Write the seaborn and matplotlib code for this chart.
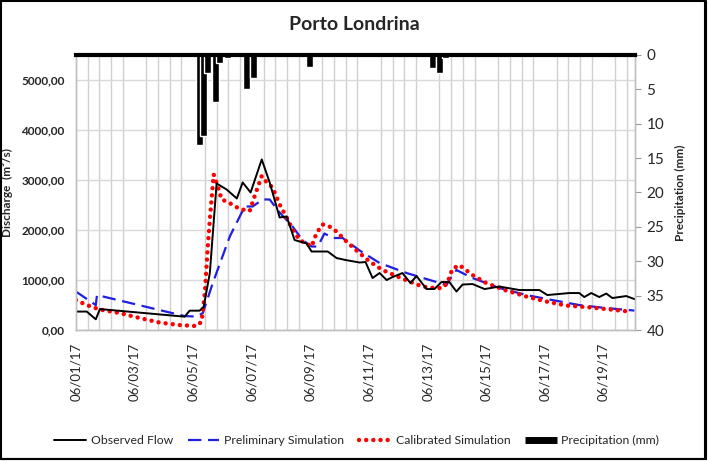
import matplotlib
matplotlib.use("Agg")
import matplotlib.pyplot as plt
from matplotlib.lines import Line2D
from matplotlib.patches import Rectangle
import seaborn as sns
import pandas as pd

# days counted from 06/01/17 00:00
obs_day = [0.00, 0.37, 0.68, 0.82, 3.71, 3.88, 4.22, 4.36, 4.57, 4.80, 5.14, 5.49, 5.69, 5.96,
           6.34, 6.61, 6.95, 7.19, 7.46, 7.87, 8.04, 8.59, 8.89, 9.20, 9.68, 9.88, 10.12, 10.36,
           10.60, 10.80, 11.14, 11.41, 11.62, 11.96, 12.23, 12.47, 12.74, 12.98, 13.19, 13.53,
           13.94, 14.45, 15.13, 15.81, 16.08, 16.83, 17.17, 17.34, 17.58, 17.85, 18.09, 18.30,
           18.77, 19.05]
obs_flow = [370, 370, 215, 420, 268, 388, 388, 468, 1140, 2930, 2810, 2630, 2950, 2750,
            3410, 2950, 2250, 2270, 1800, 1730, 1570, 1570, 1440, 1400, 1350, 1360, 1040, 1140,
            1000, 1060, 1140, 940, 1080, 820, 820, 960, 960, 770, 910, 920,
            820, 870, 800, 800, 700, 740, 740, 660, 740, 660, 730, 640,
            680, 620]

pre_day = [0.00, 0.68, 0.72, 3.71, 4.12, 4.33, 4.67, 5.25, 5.76, 6.03, 6.37, 6.61, 6.95, 7.39,
           7.73, 8.04, 8.25, 8.48, 8.76, 9.10, 9.68, 10.36, 11.28, 11.96, 12.64, 12.81, 12.98,
           13.53, 14.45, 15.37, 16.25, 17.17, 18.09, 19.05]
pre_flow = [770, 500, 700, 280, 270, 340, 940, 1870, 2470, 2470, 2610, 2610, 2350, 2070,
            1800, 1670, 1670, 1930, 1840, 1840, 1590, 1340, 1140, 1020, 900, 1060, 1200,
            1040, 840, 700, 600, 500, 440, 390]

cal_day = [0.00, 0.37, 0.72, 0.92, 1.50, 2.18, 2.86, 3.54, 4.12, 4.29, 4.40, 4.50, 4.57, 4.70,
           4.84, 4.97, 5.18, 5.59, 5.93, 6.10, 6.34, 6.51, 6.71, 6.95, 7.19, 7.39, 7.63, 8.04,
           8.21, 8.42, 8.65, 8.89, 9.23, 9.61, 10.02, 10.46, 10.97, 11.38, 11.82, 12.23, 12.50,
           12.67, 12.84, 13.08, 13.53, 14.00, 14.68, 15.37, 16.05, 16.73, 17.41, 18.09, 18.88]
cal_flow = [600, 500, 430, 400, 340, 240, 150, 100, 80, 170, 740, 1670, 2210, 3110,
            2870, 2610, 2560, 2420, 2380, 2680, 3080, 2950, 2850, 2510, 2250, 2010, 1800, 1670,
            1940, 2110, 2070, 1970, 1770, 1570, 1370, 1200, 1070, 970, 870, 840, 840,
            940, 1220, 1300, 1100, 940, 790, 670, 570, 490, 460, 420, 370]

rain_day = [4.22, 4.36, 4.48, 4.77, 4.91, 5.18, 5.83, 6.06, 7.97, 12.16, 12.40, 12.61]
rain_mm = [13.1, 11.8, 2.6, 6.9, 1.2, 0.5, 5.0, 3.4, 1.7, 1.9, 2.6, 0.4]

date_labels = ["06/01/17", "06/03/17", "06/05/17", "06/07/17", "06/09/17",
               "06/11/17", "06/13/17", "06/15/17", "06/17/17", "06/19/17"]

sns.set_style("white")
plt.rcParams['font.family'] = ['Lato', 'DejaVu Sans']

fig = plt.figure(figsize=(7.09, 4.61), dpi=100)
ax = fig.add_axes([0.107, 0.284, 0.789, 0.597])
ax2 = ax.twinx()

obs = pd.DataFrame({"day": obs_day, "flow": obs_flow})
pre = pd.DataFrame({"day": pre_day, "flow": pre_flow})
cal = pd.DataFrame({"day": cal_day, "flow": cal_flow})

sns.lineplot(data=pre, x="day", y="flow", ax=ax, color="#1f1fe0", lw=1.6,
             linestyle=(0, (6, 3)), zorder=3)
sns.lineplot(data=cal, x="day", y="flow", ax=ax, color="#ff0000", lw=3.2,
             linestyle=(0, (0.01, 1.6)), dash_capstyle="round", zorder=4)
sns.lineplot(data=obs, x="day", y="flow", ax=ax, color="black", lw=1.4, zorder=5)

# rain hangs from the top, drawn over the grid
ax2.bar(rain_day, rain_mm, width=0.24, color="black", align="center")

ax.set_xlim(0, 19.08)
ax.set_ylim(0, 5500)
ax.set_yticks(range(0, 5001, 1000))
ax.set_yticklabels([f"{v:.2f}".replace(".", ",") for v in range(0, 5001, 1000)],
                   fontsize=8.5, fontweight="bold")
ax.set_xticks(range(0, 19, 2))
ax.set_xticklabels(date_labels, rotation=90, fontsize=9.5)
ax.set_xticks([i * 0.4 for i in range(48)], minor=True)
ax.grid(True, which="minor", axis="x", color="#d0d0d0", lw=1)
ax.grid(True, which="major", axis="y", color="#d9d9d9", lw=1)
ax.tick_params(axis="x", which="major", length=3, color="#bbbbbb", pad=6)
ax.tick_params(axis="x", which="minor", length=0)
ax.tick_params(axis="y", length=0, pad=8)
ax.set_xlabel("")
ax.set_ylabel("Discharge  (m³/s)", fontsize=8.5, fontweight="bold")
ax.yaxis.set_label_coords(-0.113, 0.5)

ax2.set_ylim(40, 0)
ax2.set_yticks(range(0, 41, 5))
ax2.set_yticklabels([str(v) for v in range(0, 41, 5)], fontsize=11)
ax2.tick_params(axis="y", length=4, color="#999999", pad=4)
ax2.set_ylabel("Precipitation (mm)", fontsize=8.5, fontweight="bold", labelpad=8)

for a in (ax, ax2):
    for s in ("left", "right", "bottom"):
        a.spines[s].set_color("#bfbfbf")
        a.spines[s].set_linewidth(1)
ax2.spines["top"].set_color("black")
ax2.spines["top"].set_linewidth(3)
ax.spines["top"].set_visible(False)

fig.suptitle("Porto Londrina", fontsize=14, fontweight="bold", y=0.965)

handles = [
    Line2D([], [], color="black", lw=1.4),
    Line2D([], [], color="#1f1fe0", lw=1.6, linestyle=(0, (6, 3))),
    Line2D([], [], color="#ff0000", lw=3.2, linestyle=(0, (0.01, 1.6)), dash_capstyle="round"),
    Line2D([], [], color="black", lw=5, solid_capstyle="butt"),
]
labels = ["Observed Flow", "Preliminary Simulation", "Calibrated Simulation", "Precipitation (mm)"]
fig.legend(handles, labels, loc="center", bbox_to_anchor=(0.503, 0.045), ncol=4,
           frameon=False, fontsize=8.8, handlelength=2.6, handletextpad=0.4, columnspacing=1.2)

fig.patches.append(Rectangle((0.002, 0.005), 0.993, 0.992, transform=fig.transFigure,
                             fill=False, edgecolor="black", lw=1.5))
fig.add_artist(Line2D([0.996, 0.996], [0.004, 0.997], transform=fig.transFigure,
                      color="black", lw=1.5))
fig.add_artist(Line2D([0.002, 0.996], [0.004, 0.004], transform=fig.transFigure,
                      color="black", lw=1.5))

fig.savefig("out.png", dpi=100)
